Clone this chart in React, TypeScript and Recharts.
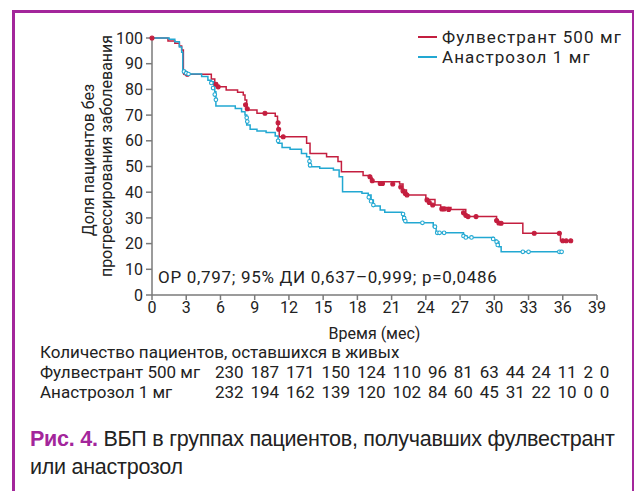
import React from 'react';
import {
  ComposedChart,
  Line,
  Scatter,
  XAxis,
  YAxis,
  Legend,
} from 'recharts';

// Kaplan–Meier steps (time in months, % without progression)
const fulvTime = [0, 1.4, 2.0, 2.4, 2.6, 2.75, 3.0, 5.2, 5.5, 5.7, 6.5, 7.5, 8.0, 8.15, 8.3, 9.2, 10.8, 11.0, 11.05, 11.15, 13.55, 13.85, 15.3, 16.3, 16.6, 18.5, 19.1, 19.3, 21.7, 22.0, 22.3, 24.0, 24.8, 25.3, 26.2, 27.0, 27.5, 30.2, 30.4, 32.5, 35.8, 36.7];
const fulvSurv = [100, 98.8, 98, 96.9, 95.3, 86.9, 85.9, 84.0, 82.4, 81.0, 79.8, 78.9, 77.8, 75.9, 72.0, 70.7, 69.6, 67, 64.5, 61.6, 59, 55.1, 53.8, 51.9, 48, 46.5, 45.5, 44.1, 43.2, 40.9, 38.9, 37.2, 35, 34, 33.3, 33.3, 30.5, 28.5, 27.9, 24.0, 21.1, 21.1];

const anasTime = [0, 1.5, 2.0, 2.4, 2.6, 2.7, 2.9, 4.35, 4.9, 5.2, 5.4, 5.5, 5.6, 7.3, 7.85, 8.15, 8.3, 8.6, 9.2, 10.0, 10.8, 11.05, 11.4, 12.1, 13.1, 13.55, 13.8, 14.7, 15.9, 16.4, 16.7, 18.4, 18.95, 19.2, 19.4, 20.0, 20.4, 21.9, 22.0, 22.2, 24.65, 24.9, 27.3, 27.6, 29.9, 30.2, 30.4, 30.6, 35.9];
const anasSurv = [100, 99.5, 98.5, 96.5, 94.5, 87.3, 86.0, 85.0, 83.6, 83.0, 81.7, 79.1, 73.5, 72.6, 71.3, 70.0, 66.1, 64.5, 63.8, 63.2, 61.9, 59.0, 57.4, 56.7, 55.1, 53.8, 49.9, 49.3, 48.6, 46.0, 40.2, 39.6, 38.9, 37.0, 34.6, 33.1, 32.2, 31.8, 29.2, 28.1, 26.6, 24.2, 23.0, 22.4, 21.4, 20.7, 18.8, 16.8, 16.8];

// censored observations
const fulvCensTime = [0, 2.9, 3.1, 5.6, 5.8, 8.2, 8.35, 9.9, 11.05, 11.1, 11.5, 19.1, 19.3, 20.0, 20.2, 21.1, 21.8, 22.0, 22.2, 22.35, 24.1, 24.3, 24.6, 25.4, 25.6, 26.0, 27.3, 27.5, 27.7, 28.4, 30.2, 30.4, 30.6, 33.5, 35.7, 36.0, 36.3, 36.7];
const fulvCensSurv = [100, 86.5, 85.9, 82, 81, 74, 72.5, 70.7, 67, 64.5, 61.6, 46, 44.5, 43.4, 43.4, 43.2, 42, 40.5, 39.5, 38.9, 37, 36, 35, 33.5, 33.5, 33.3, 32, 31, 30.5, 30.5, 29, 28, 27.9, 24, 24, 21.1, 21.1, 21.1];
const anasCensTime = [2.8, 3.0, 3.2, 5.2, 5.35, 5.5, 5.6, 8.3, 8.35, 11.05, 13.8, 13.85, 19.0, 19.2, 19.4, 22.0, 22.1, 22.2, 23.7, 24.8, 25.0, 25.2, 25.6, 27.3, 27.5, 28.0, 29.9, 30.2, 30.3, 32.5, 33.0, 35.7, 35.9];
const anasCensSurv = [87, 86.3, 86, 82.5, 80.5, 78, 76, 69, 67.5, 60, 52, 50.5, 38, 36.5, 35, 31.5, 30, 28.8, 28.1, 26.6, 24.2, 24.2, 24.2, 23, 22.4, 22.4, 21.8, 20.7, 19.5, 16.8, 16.8, 16.8, 16.8];

const xTicks = [0, 3, 6, 9, 12, 15, 18, 21, 24, 27, 30, 33, 36, 39];
const yTicks = [0, 10, 20, 30, 40, 50, 60, 70, 80, 90, 100];

const fulvAtRisk = [230, 187, 171, 150, 124, 110, 96, 81, 63, 44, 24, 11, 2, 0];
const anasAtRisk = [232, 194, 162, 139, 120, 102, 84, 60, 45, 31, 22, 10, 0, 0];

const RED = '#c41e3f';
const BLUE = '#22a8d2';
const AXIS = '#7a7a7a';
const PURPLE = '#a3269b';
const FONT = 'Roboto, "Noto Sans", sans-serif';

const toPoints = (t: number[], v: number[]) => t.map((x, i) => ({ t: x, v: v[i] }));

const fulvData = toPoints(fulvTime, fulvSurv);
const anasData = toPoints(anasTime, anasSurv);
const fulvCens = toPoints(fulvCensTime, fulvCensSurv);
const anasCens = toPoints(anasCensTime, anasCensSurv);

const CensorMark = (color: string, filled: boolean) => (props: any) => (
  <circle cx={props.cx} cy={props.cy} r={filled ? 2 : 1.8} fill={filled ? color : '#fff'} stroke={color} strokeWidth={1.1} />
);

const renderLegend = () => (
  <div style={{ fontFamily: FONT, fontSize: 17, letterSpacing: 1.1, color: '#222', lineHeight: '20px', whiteSpace: 'nowrap' }}>
    {[
      { name: 'Фулвестрант 500 мг', color: RED },
      { name: 'Анастрозол 1 мг', color: BLUE },
    ].map((item) => (
      <div key={item.name} style={{ display: 'flex', alignItems: 'center' }}>
        <span style={{ display: 'inline-block', width: 19, height: 1.5, background: item.color, marginRight: 5 }} />
        {item.name}
      </div>
    ))}
  </div>
);

const renderYLabel = () => (
  <g fontFamily={FONT} fontSize={16} fill="#222">
    <text x={88} y={160} transform="rotate(-90 88 160)" textAnchor="middle" dominantBaseline="central">
      Доля пациентов без
    </text>
    <text x={106} y={156} transform="rotate(-90 106 156)" textAnchor="middle" dominantBaseline="central">
      прогрессирования заболевания
    </text>
  </g>
);

export default function App() {
  return (
    <div style={{ position: 'absolute', left: 0, top: 0, width: 634, height: 491, background: '#fff', overflow: 'hidden' }}>
      <div
        style={{
          position: 'absolute',
          left: 12,
          top: 10,
          width: 617,
          height: 500,
          borderTop: `3px solid ${PURPLE}`,
          borderLeft: `3px solid ${PURPLE}`,
          borderRight: `3px solid ${PURPLE}`,
        }}
      />
      <div style={{ position: 'absolute', left: 0, top: 0 }}>
        <ComposedChart width={634} height={345} margin={{ top: 38, right: 37, bottom: 0, left: 0 }}>
          <XAxis
            type="number"
            dataKey="t"
            domain={[0, 39]}
            ticks={xTicks}
            interval={0}
            height={50}
            allowDuplicatedCategory={false}
            stroke={AXIS}
            strokeWidth={1.5}
            tickSize={5}
            tickMargin={2}
            tick={{ fill: '#222', fontSize: 16, fontFamily: FONT }}
            label={{ value: 'Время (мес)', position: 'insideBottom', offset: 6, fill: '#222', fontSize: 16, fontFamily: FONT }}
          />
          <YAxis
            type="number"
            domain={[0, 100]}
            ticks={yTicks}
            interval={0}
            width={152}
            stroke={AXIS}
            strokeWidth={1.5}
            tickSize={6}
            tickMargin={3}
            tick={{ fill: '#222', fontSize: 16, fontFamily: FONT }}
            label={{ content: renderYLabel }}
          />
          <Legend
            layout="vertical"
            align="center"
            verticalAlign="middle"
            content={renderLegend}
            wrapperStyle={{ top: 27, left: 418, width: 'auto' }}
          />
          <Line
            data={fulvData}
            dataKey="v"
            type="stepAfter"
            stroke={RED}
            strokeWidth={1.5}
            dot={false}
            isAnimationActive={false}
            name="Фулвестрант 500 мг"
          />
          <Line
            data={anasData}
            dataKey="v"
            type="stepAfter"
            stroke={BLUE}
            strokeWidth={1.5}
            dot={false}
            isAnimationActive={false}
            name="Анастрозол 1 мг"
          />
          <Scatter data={fulvCens} dataKey="v" shape={CensorMark(RED, true)} isAnimationActive={false} legendType="none" />
          <Scatter data={anasCens} dataKey="v" shape={CensorMark(BLUE, false)} isAnimationActive={false} legendType="none" />
        </ComposedChart>
      </div>
      <div style={{ position: 'absolute', left: 158, top: 267, fontFamily: FONT, fontSize: 17, letterSpacing: 0.7, color: '#222', whiteSpace: 'nowrap' }}>
        ОР 0,797; 95% ДИ 0,637–0,999; p=0,0486
      </div>
      <div style={{ position: 'absolute', left: 40, top: 342, fontFamily: FONT, fontSize: 17, color: '#222', lineHeight: '20px', whiteSpace: 'nowrap' }}>
        <div>Количество пациентов, оставшихся в живых</div>
        <div style={{ display: 'flex' }}>
          <span style={{ width: 175 }}>Фулвестрант 500 мг</span>
          <span style={{ wordSpacing: 2.6 }}>{fulvAtRisk.join(' ')}</span>
        </div>
        <div style={{ display: 'flex' }}>
          <span style={{ width: 175 }}>Анастрозол 1 мг</span>
          <span style={{ wordSpacing: 2.6 }}>{anasAtRisk.join(' ')}</span>
        </div>
      </div>
      <div
        style={{
          position: 'absolute',
          left: 30,
          top: 425,
          width: 600,
          fontFamily: '"Liberation Sans", Arial, sans-serif',
          fontSize: 21.5,
          letterSpacing: -0.25,
          lineHeight: '28px',
          color: '#222',
          whiteSpace: 'nowrap',
        }}
      >
        <span style={{ color: PURPLE, fontWeight: 'bold' }}>Рис. 4.</span> ВБП в группах пациентов, получавших фулвестрант
        <br />
        или анастрозол
      </div>
    </div>
  );
}
